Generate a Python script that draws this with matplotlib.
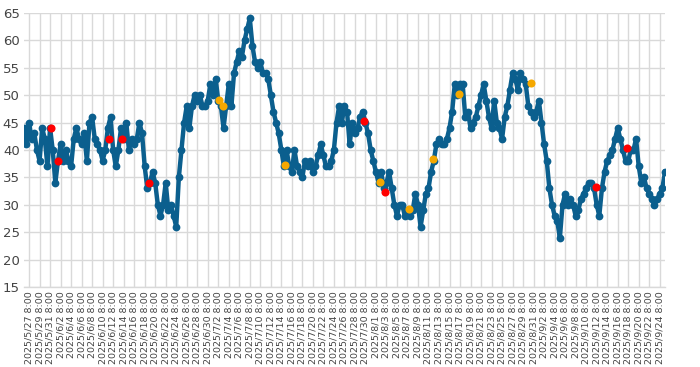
import matplotlib
matplotlib.use("Agg")
import matplotlib.pyplot as plt
import pandas as pd

start = "2025-05-26 08:00"
values = [
    44, 41, 45, 42, 43, 40, 38, 44, 42, 37, 44, 40, 34, 38, 41, 38, 40, 38, 37, 42,
    44, 42, 41, 43, 38, 45, 46, 42, 41, 40, 38, 40, 44, 46, 40, 37, 40, 44, 42, 45,
    40, 42, 41, 42, 45, 43, 37, 33, 34, 36, 34, 30, 28, 30, 34, 29, 30, 28, 26, 35,
    40, 45, 48, 44, 48, 50, 49, 50, 48, 48, 49, 52, 50, 53, 49, 48, 44, 48, 52, 48,
    54, 56, 58, 57, 60, 62, 64, 59, 56, 55, 56, 54, 54, 53, 50, 47, 45, 43, 40, 37,
    40, 37, 36, 40, 37, 36, 35, 38, 37, 38, 36, 37, 39, 41, 39, 37, 37, 38, 40, 45,
    48, 45, 48, 47, 41, 45, 43, 44, 46, 47, 45, 43, 40, 38, 36, 34, 36, 33, 34, 36,
    33, 30, 28, 30, 30, 28, 29, 28, 29, 32, 30, 26, 29, 32, 33, 36, 38, 41, 42, 41,
    41, 42, 44, 47, 52, 50, 52, 52, 46, 47, 44, 45, 46, 48, 50, 52, 49, 46, 44, 49,
    45, 44, 42, 46, 48, 51, 54, 53, 51, 54, 53, 52, 48, 47, 46, 47, 49, 45, 41, 38,
    33, 30, 28, 27, 24, 30, 32, 30, 31, 30, 28, 29, 31, 32, 33, 34, 34, 33, 30, 28,
    33, 36, 38, 39, 40, 42, 44, 42, 40, 38, 38, 40, 40, 42, 37, 34, 35, 33, 32, 31,
    30, 31, 32, 33, 36,
]

red_times = ["2025-05-31 13:00", "2025-06-01 20:00", "2025-06-11 13:00",
             "2025-06-14 01:00", "2025-06-19 06:00", "2025-07-30 03:00",
             "2025-08-03 01:00", "2025-09-12 03:00", "2025-09-18 01:00"]
red_values = [44, 38, 42, 42, 34, 45.3, 32.4, 33.2, 40.3]

yellow_times = ["2025-07-02 10:00", "2025-07-03 06:00", "2025-07-15 01:00",
                "2025-08-02 03:00", "2025-08-07 15:00", "2025-08-12 03:00",
                "2025-08-17 03:00", "2025-08-30 20:00"]
yellow_values = [49.1, 48.0, 37.3, 34.2, 29.3, 38.3, 50.2, 52.2]

tick_start = "2025-05-27 08:00"
tick_end = "2025-09-24 08:00"
y_ticks = list(range(15, 70, 5))

times = pd.date_range(start, periods=len(values), freq="12h")
tick_dates = pd.date_range(tick_start, tick_end, freq="2D")
tick_labels = [f"{d.year}/{d.month}/{d.day} {d.hour}:{d.minute:02d}" for d in tick_dates]

blue = "#0b5f8e"
fig = plt.figure(figsize=(7.0, 3.67), dpi=100)
ax = fig.add_axes([0.034, 0.218, 0.916, 0.747])

ax.plot(times, values, color=blue, lw=3.2, marker="o", ms=5.6,
        markeredgewidth=0, zorder=3, solid_joinstyle="round")
ax.scatter(pd.to_datetime(red_times), red_values, s=34, color="#ff0000",
           zorder=4, linewidths=0)
ax.scatter(pd.to_datetime(yellow_times), yellow_values, s=34, color="#f5a800",
           zorder=4, linewidths=0)

ax.set_xlim(times[0], times[-1])
ax.set_ylim(15, 65)
ax.set_yticks(y_ticks)
ax.set_xticks(tick_dates)
ax.set_xticklabels(tick_labels, rotation=90, fontsize=6.8, color="#444444")
ax.tick_params(axis="y", labelsize=9.5, colors="#444444", length=0, pad=3)
ax.tick_params(axis="x", length=0, pad=3)
ax.grid(True, color="#d9d9d9", lw=1.0, zorder=0)
ax.set_axisbelow(True)
for s in ["top", "right", "left"]:
    ax.spines[s].set_visible(False)
ax.spines["bottom"].set_color("#d9d9d9")
ax.spines["bottom"].set_linewidth(1.0)

fig.savefig("out.png", dpi=100)
